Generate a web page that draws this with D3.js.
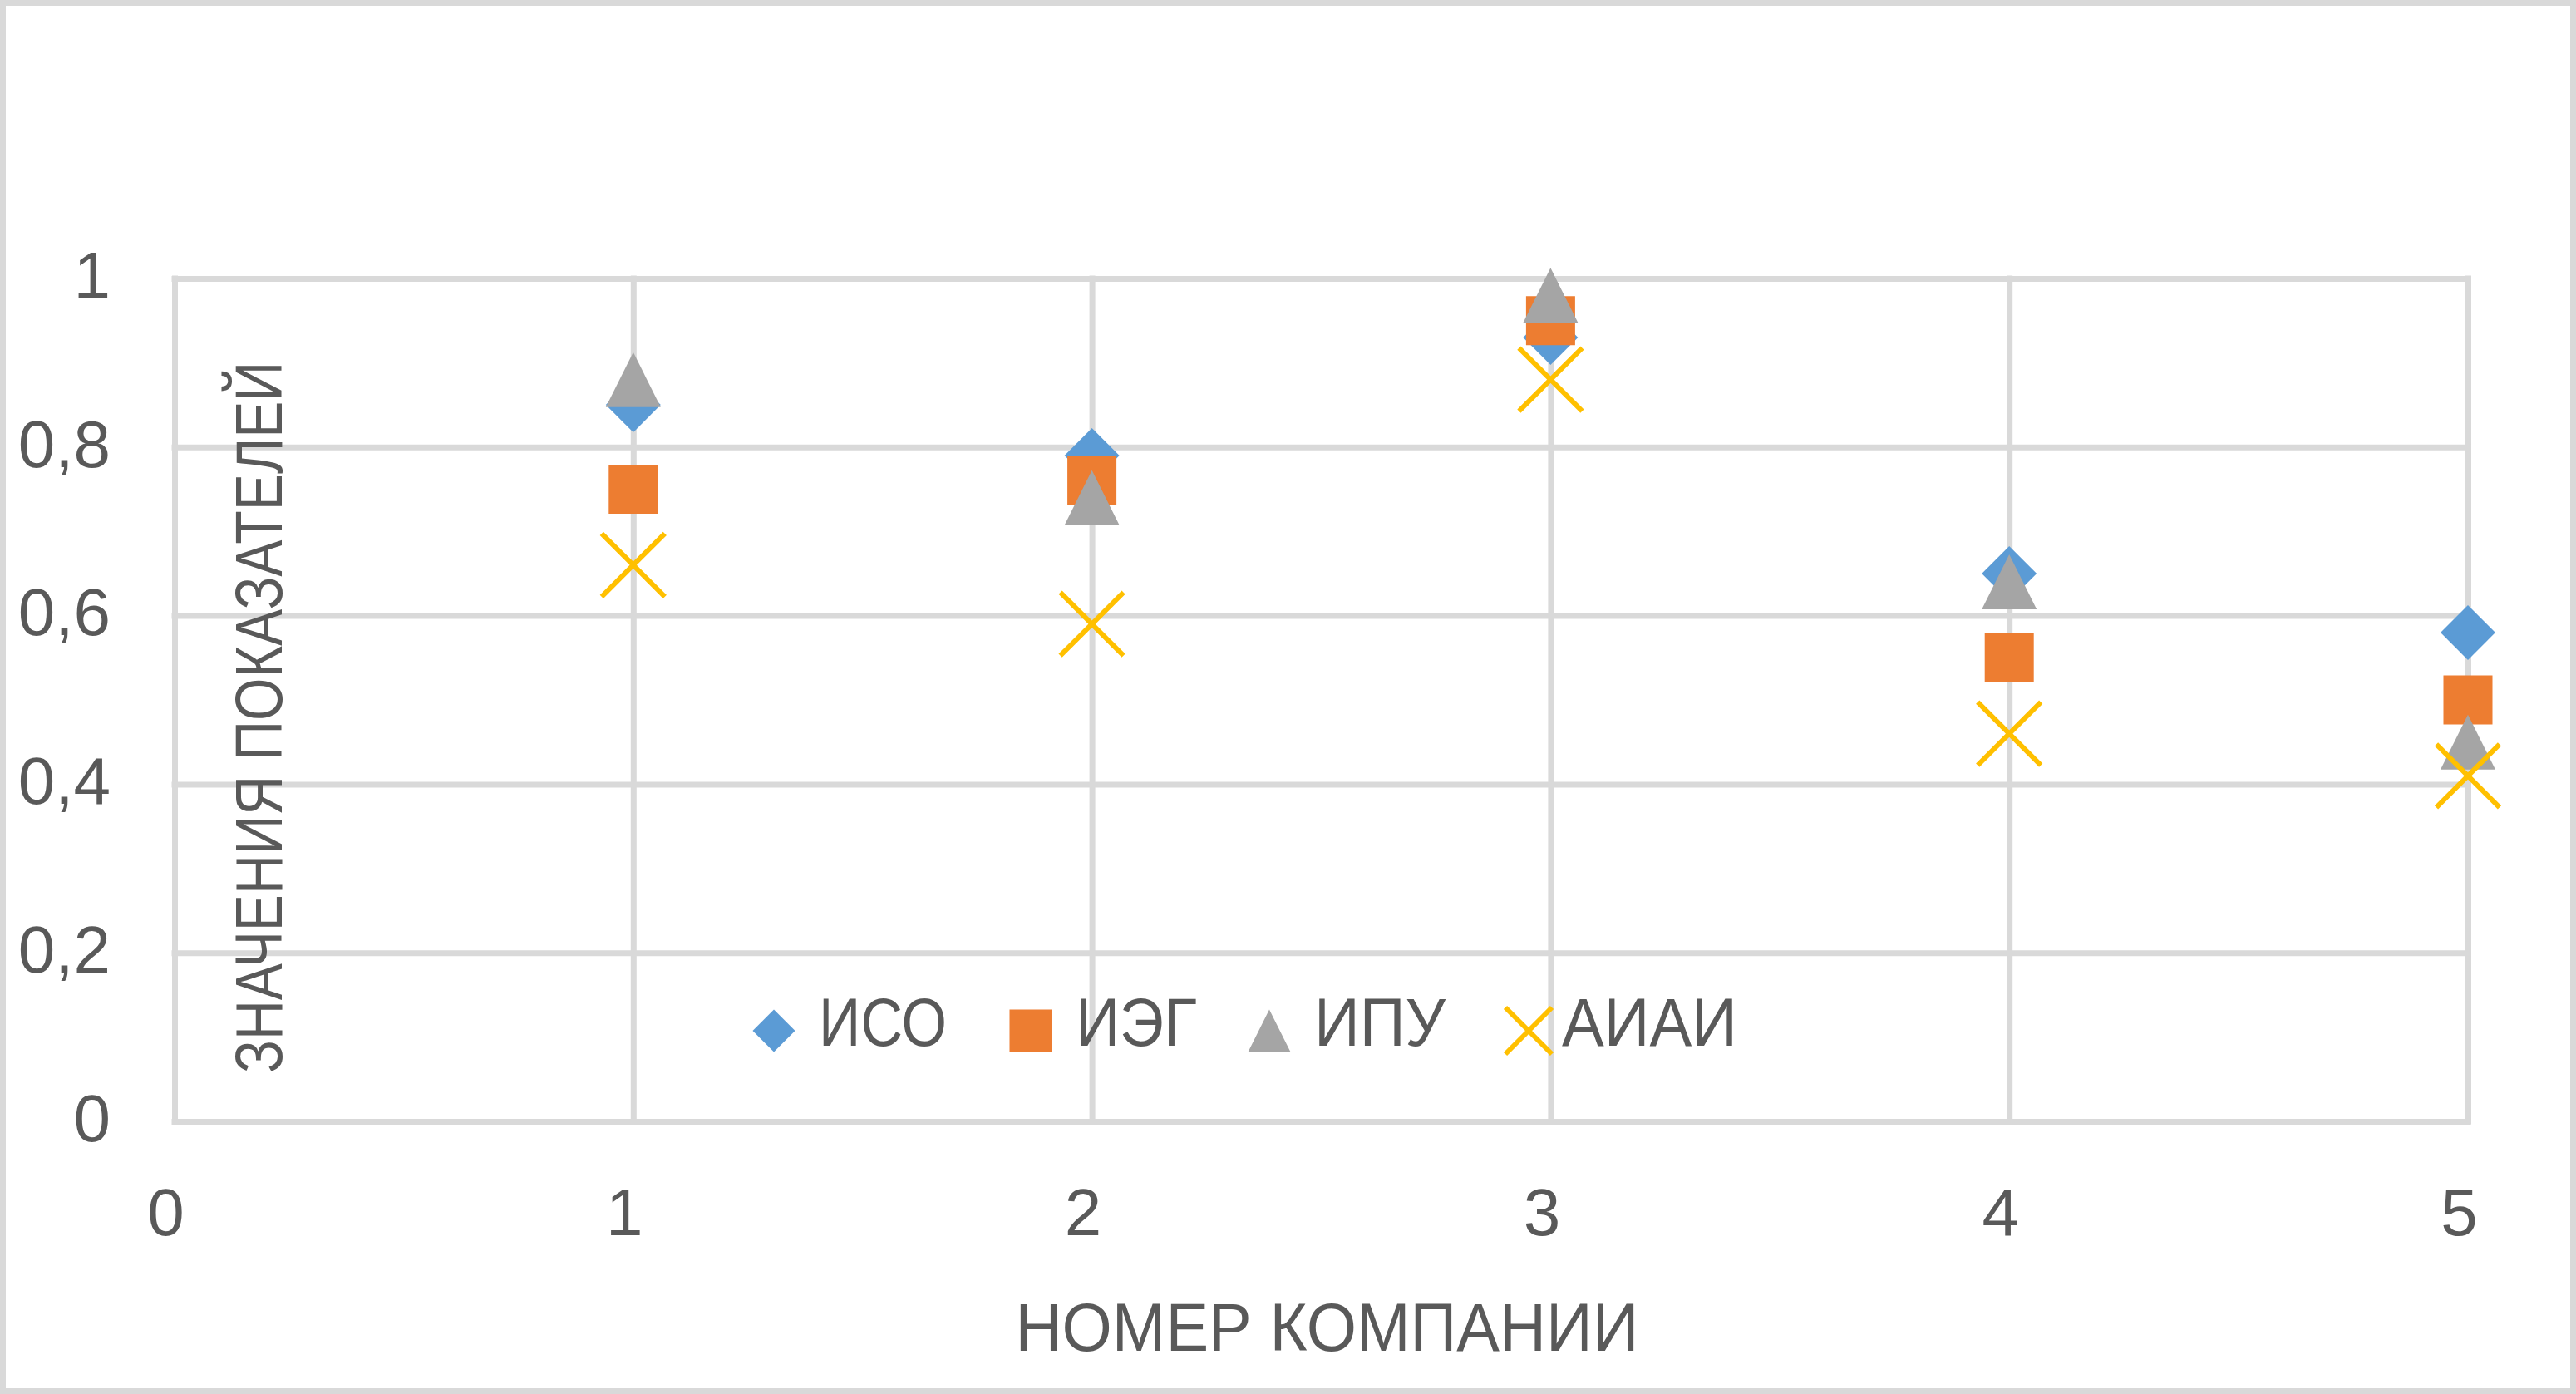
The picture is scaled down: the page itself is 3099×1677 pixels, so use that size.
<!DOCTYPE html>
<html>
<head>
<meta charset="utf-8">
<script src="https://cdn.jsdelivr.net/npm/d3@7/dist/d3.min.js"></script>
<style>
    html, body { margin: 0; padding: 0; background: #ffffff; }
    svg { display: block; }
    text { font-family: "Liberation Sans", Arial, sans-serif; fill: #595959; }
</style>
</head>
<body>
<script>
// chart data
var companies = [1, 2, 3, 4, 5];
var xTicks = [0, 1, 2, 3, 4, 5];
var yTicks = [0, 0.2, 0.4, 0.6, 0.8, 1];
var yTickLabels = ["0", "0,2", "0,4", "0,6", "0,8", "1"];
var seriesNames = ["ИСО", "ИЭГ", "ИПУ", "АИАИ"];
var isoValues = [0.85, 0.79, 0.93, 0.65, 0.58];
var iegValues = [0.75, 0.76, 0.95, 0.55, 0.50];
var ipuValues = [0.88, 0.74, 0.98, 0.64, 0.45];
var aiaiValues = [0.66, 0.59, 0.88, 0.46, 0.41];
var xTitle = "НОМЕР КОМПАНИИ";
var yTitle = "ЗНАЧЕНИЯ ПОКАЗАТЕЛЕЙ";

var seriesValues = [isoValues, iegValues, ipuValues, aiaiValues];
var seriesColors = ["#5b9bd5", "#ed7d31", "#a5a5a5", "#ffc000"];
var seriesShapes = ["diamond", "square", "triangle", "cross"];

var width = 3099;
var height = 1677;
var margin = { top: 335, right: 130, bottom: 328, left: 210 };
var plotW = width - margin.left - margin.right;
var plotH = height - margin.top - margin.bottom;
var gridColor = "#d9d9d9";

/**
 * Path for one marker, centred on 0,0
 * @param shape
 * @param size full width of the marker
 */
function markerPath(shape, size) {
    var h = size / 2;
    var p = d3.path();
    if (shape === "diamond") {
        p.moveTo(0, -h); p.lineTo(h, 0); p.lineTo(0, h); p.lineTo(-h, 0); p.closePath();
    } else if (shape === "square") {
        p.rect(-h, -h, size, size);
    } else if (shape === "triangle") {
        p.moveTo(0, -h); p.lineTo(h, h); p.lineTo(-h, h); p.closePath();
    } else {
        p.moveTo(-h, -h); p.lineTo(h, h);
        p.moveTo(h, -h); p.lineTo(-h, h);
    }
    return p.toString();
}

/**
 * Put a marker path on a selection with the right paint
 */
function styleMarker(sel, i) {
    if (seriesShapes[i] === "cross") {
        sel.attr("fill", "none").attr("stroke", seriesColors[i]).attr("stroke-width", 6);
    } else {
        sel.attr("fill", seriesColors[i]).attr("stroke", "none");
    }
}

var markerSizes = { diamond: 66, square: 59, triangle: 66, cross: 76 };
var legendSizes = { diamond: 51, square: 51, triangle: 51, cross: 56 };

var svg = d3.select("body").append("svg")
    .attr("width", width)
    .attr("height", height);

svg.append("rect")
    .attr("x", 3.5).attr("y", 3.5)
    .attr("width", width - 7).attr("height", height - 7)
    .attr("fill", "#ffffff")
    .attr("stroke", gridColor)
    .attr("stroke-width", 7);

var xScale = d3.scaleLinear().domain([0, 5]).range([margin.left, margin.left + plotW]);
var yScale = d3.scaleLinear().domain([0, 1]).range([margin.top + plotH, margin.top]);

// vertical gridlines + x tick labels
var xAxis = svg.append("g")
    .attr("transform", "translate(0," + (margin.top + plotH) + ")")
    .call(d3.axisBottom(xScale).tickValues(xTicks).tickFormat(d3.format("d"))
        .tickSize(-plotH).tickPadding(80));
// horizontal gridlines + y tick labels
var yAxis = svg.append("g")
    .attr("transform", "translate(" + margin.left + ",0)")
    .call(d3.axisLeft(yScale).tickValues(yTicks)
        .tickFormat(function (d, i) { return yTickLabels[i]; })
        .tickSize(-plotW).tickPadding(77));

[xAxis, yAxis].forEach(function (ax) {
    ax.select(".domain").remove();
    ax.attr("font-size", 80).attr("font-family", null);
    ax.selectAll(".tick line")
        .attr("stroke", gridColor)
        .attr("stroke-width", 7)
        .attr("stroke-linecap", "square");
    ax.selectAll(".tick text").attr("fill", "#595959");
});
xAxis.selectAll(".tick text").attr("dx", -11);
yAxis.selectAll(".tick text").attr("dy", "0.29em");

// axis titles
svg.append("text")
    .attr("x", margin.left + plotW / 2 + 7)
    .attr("y", 1625)
    .attr("text-anchor", "middle")
    .attr("font-size", 81)
    .attr("textLength", 750)
    .attr("lengthAdjust", "spacingAndGlyphs")
    .text(xTitle);

svg.append("text")
    .attr("transform", "translate(339,863) rotate(-90)")
    .attr("text-anchor", "middle")
    .attr("font-size", 80)
    .attr("textLength", 856)
    .attr("lengthAdjust", "spacingAndGlyphs")
    .text(yTitle);

// series markers, drawn in series order so later ones sit on top
seriesValues.forEach(function (values, i) {
    var shape = seriesShapes[i];
    svg.append("g")
        .selectAll("path")
        .data(values)
        .join("path")
        .attr("transform", function (d, j) {
            return "translate(" + xScale(companies[j]) + "," + yScale(d) + ")";
        })
        .attr("d", markerPath(shape, markerSizes[shape]))
        .call(styleMarker, i);
});

// legend, inside the plot area
var legendX = [931, 1240, 1527, 1839];
var legendTextW = [154, 146, 158, 211];
var legend = svg.append("g");
seriesNames.forEach(function (name, i) {
    var shape = seriesShapes[i];
    var item = legend.append("g")
        .attr("transform", "translate(" + legendX[i] + ",1240)");
    item.append("path")
        .attr("d", markerPath(shape, legendSizes[shape]))
        .call(styleMarker, i);
    item.append("text")
        .attr("x", shape === "cross" ? 40 : 54)
        .attr("y", 18)
        .attr("font-size", 81)
        .attr("textLength", legendTextW[i])
        .attr("lengthAdjust", "spacingAndGlyphs")
        .text(name);
});
</script>
</body>
</html>
